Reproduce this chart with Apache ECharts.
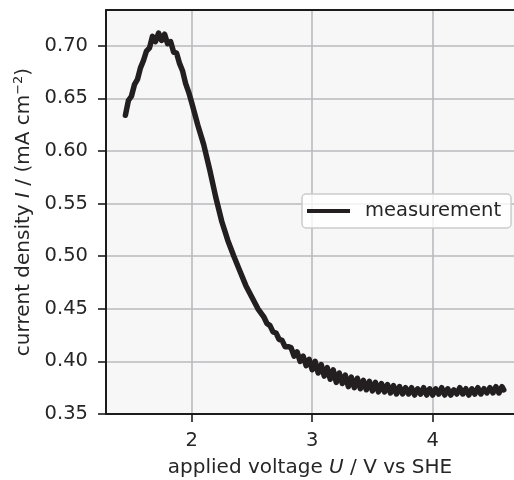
<!DOCTYPE html>
<html>
<head>
<meta charset="utf-8">
<script src="https://cdn.jsdelivr.net/npm/echarts@6/dist/echarts.min.js"></script>
<style>
html,body{margin:0;padding:0;background:#fff;}
#c{width:514px;height:480px;}
</style>
</head>
<body>
<div id="c"></div>
<script>
// applied voltage U / V vs SHE
const voltage = [
1.450,1.475,1.500,1.525,1.550,1.575,1.600,1.625,1.650,1.675,1.700,1.725,1.750,1.775,1.800,1.825,1.850,1.875,1.900,1.925,1.950,1.975,2.000,
2.05,2.10,2.15,2.20,2.25,2.30,2.35,2.40,2.45,2.50,2.55,
2.600,2.625,2.650,2.675,2.700,2.725,2.750,2.775,2.800,
2.825,2.850,2.875,2.900,2.925,2.950,2.975,3.000,3.025,3.050,3.075,3.100,3.125,3.150,3.175,3.200,3.225,3.250,3.275,3.300,3.325,3.350,3.375,3.400,3.425,3.450,3.475,3.500,3.525,3.550,3.575,3.600,3.625,3.650,3.675,3.700,3.725,3.750,3.775,3.800,3.825,3.850,3.875,3.900,3.925,3.950,3.975,4.000,4.025,4.050,4.075,4.100,4.125,4.150,4.175,4.200,4.225,4.250,4.275,4.300,4.325,4.350,4.375,4.400,4.425,4.450,4.475,4.500,4.525,4.550,4.575,4.590];
// current density I / (mA cm^-2)
const current = [
0.634,0.648,0.652,0.663,0.668,0.679,0.686,0.695,0.698,0.709,0.704,0.712,0.705,0.711,0.702,0.704,0.694,0.693,0.683,0.676,0.664,0.656,0.646,
0.625,0.606,0.582,0.556,0.533,0.515,0.500,0.486,0.472,0.461,0.450,
0.442,0.436,0.434,0.428,0.427,0.421,0.420,0.414,0.414,
0.413,0.405,0.409,0.400,0.405,0.396,0.402,0.392,0.400,0.389,0.397,0.386,0.394,0.383,0.392,0.380,0.389,0.379,0.387,0.376,0.385,0.375,0.384,0.374,0.382,0.373,0.381,0.372,0.380,0.371,0.379,0.371,0.378,0.370,0.377,0.369,0.376,0.369,0.375,0.369,0.375,0.368,0.374,0.369,0.375,0.368,0.374,0.368,0.374,0.369,0.375,0.368,0.374,0.368,0.373,0.369,0.375,0.369,0.374,0.368,0.374,0.369,0.375,0.369,0.374,0.370,0.375,0.370,0.376,0.370,0.376,0.373];
const xTicks = [2,3,4];
const yTicks = [0.35,0.40,0.45,0.50,0.55,0.60,0.65,0.70];
const seriesName = 'measurement';

const chart = echarts.init(document.getElementById('c'), null, {renderer:'canvas'});
const FONT = 'DejaVu Sans';
const TXT = '#262626';
const DARK = '#1c1c1c';
const gridLine = {show:true, lineStyle:{color:'#bababe', width:1.6}};
const XMIN = 1.289, XMAX = 4.675;
chart.setOption({
  animation:false,
  grid:{left:106, top:10, right:0, bottom:66, show:true, backgroundColor:'#f7f7f7', borderWidth:0, outerBoundsMode:'none', containLabel:false},
  legend:{
    left:302, top:194, orient:'vertical',
    data:[{name:seriesName, icon:'rect'}],
    itemWidth:43, itemHeight:4,
    backgroundColor:'rgba(255,255,255,0.8)', borderColor:'#cccccc', borderWidth:1.5, borderRadius:4,
    padding:[7,10,7,5],
    textStyle:{fontFamily:FONT, fontSize:19.5, color:TXT, padding:[0,0,0,10]}
  },
  xAxis:[{
    type:'value', min:XMIN, max:XMAX,
    axisLine:{show:true, onZero:false, lineStyle:{color:DARK, width:2}},
    axisTick:{show:true, length:8, customValues:xTicks, lineStyle:{color:DARK, width:1.6}},
    axisLabel:{customValues:xTicks, margin:17, fontFamily:FONT, fontSize:19.5, color:TXT},
    splitLine:Object.assign({customValues:xTicks}, gridLine),
    name:'applied voltage {i|U} / V vs SHE', nameLocation:'middle', nameGap:44,
    nameTextStyle:{fontFamily:FONT, fontSize:20, color:TXT, rich:{i:{fontFamily:FONT, fontSize:20, fontStyle:'italic', color:TXT}}}
  },{
    type:'value', position:'top', min:XMIN, max:XMAX,
    axisLine:{show:true, onZero:false, lineStyle:{color:DARK, width:2}},
    axisTick:{show:false}, axisLabel:{show:false}, splitLine:{show:false}
  }],
  yAxis:{
    type:'value', min:0.35, max:0.734,
    axisLine:{show:true, onZero:false, lineStyle:{color:DARK, width:2}},
    axisTick:{show:true, length:8, customValues:yTicks, lineStyle:{color:DARK, width:1.6}},
    axisLabel:{customValues:yTicks, margin:18, fontFamily:FONT, fontSize:19.5, color:TXT, formatter:v=>v.toFixed(2)},
    splitLine:Object.assign({customValues:yTicks}, gridLine),
    name:'current density {i|I} / (mA cm{s|−2})', nameLocation:'middle', nameGap:68, nameRotate:90,
    nameTextStyle:{fontFamily:FONT, fontSize:20, color:TXT, rich:{i:{fontFamily:FONT, fontSize:20, fontStyle:'italic', color:TXT}, s:{fontFamily:FONT, fontSize:13, color:TXT, verticalAlign:'top', padding:[0,0,10,0]}}}
  },
  series:[{
    name:seriesName, type:'line', showSymbol:false, symbol:'none', xAxisIndex:0,
    data:voltage.map((v,i)=>[v,current[i]]),
    lineStyle:{color:'#231f20', width:5.5, join:'round', cap:'round'},
    itemStyle:{color:'#231f20'}
  }]
});
</script>
</body>
</html>
